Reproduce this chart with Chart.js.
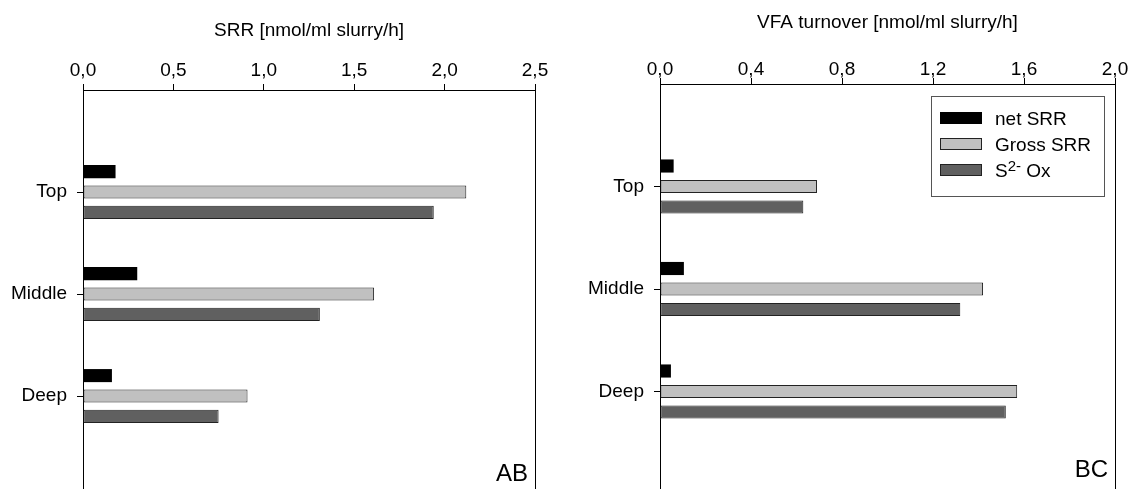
<!DOCTYPE html>
<html>
<head>
<meta charset="utf-8">
<script src="https://cdn.jsdelivr.net/npm/chart.js@4.4.1/dist/chart.umd.min.js"></script>
<style>
  html, body { margin: 0; padding: 0; background: #fff; overflow: hidden; width: 1131px; height: 489px; }
  #wrap { position: relative; width: 1131px; height: 489px; overflow: hidden; }
  .panel { position: absolute; top: 0; }
</style>
</head>
<body>
<div id="wrap">
  <div class="panel" style="left:0"><canvas id="srr" width="565" height="520"></canvas></div>
  <div class="panel" style="left:565px"><canvas id="vfa" width="566" height="520"></canvas></div>
</div>
<script>
// Sediment depth layers
const depths = ['Top', 'Middle', 'Deep'];
// Series names (^{...} marks superscript text)
const seriesNames = ['net SRR', 'Gross SRR', 'S^{2-} Ox'];
const seriesColors = ['#000000', '#c0c0c0', '#606060'];

// Sulfate reduction rates [nmol/ml slurry/h]
const srrNet   = [0.18, 0.30, 0.16];
const srrGross = [2.12, 1.61, 0.91];
const srrOx    = [1.94, 1.31, 0.75];
const srrTicks = [0.0, 0.5, 1.0, 1.5, 2.0, 2.5];

// VFA turnover [nmol/ml slurry/h]
const vfaNet   = [0.06, 0.105, 0.048];
const vfaGross = [0.69, 1.42, 1.57];
const vfaOx    = [0.63, 1.32, 1.52];
const vfaTicks = [0.0, 0.4, 0.8, 1.2, 1.6, 2.0];

const FONT = '"Liberation Sans", Arial, Helvetica, sans-serif';
Chart.defaults.font.family = FONT;
Chart.defaults.color = '#000';
Chart.defaults.animation = false;

// Empty slots above and below the depth layers give the open space at both ends
const padLabels = ['', ...depths, ''];
const padData = arr => [null, ...arr, null];

// Draws text where ^{...} is set as superscript
function drawRich(ctx, text, x, y, size) {
  const parts = [];
  const re = /\^\{([^}]*)\}/g;
  let last = 0, m;
  while ((m = re.exec(text)) !== null) {
    if (m.index > last) parts.push({ t: text.slice(last, m.index), sup: false });
    parts.push({ t: m[1], sup: true });
    last = re.lastIndex;
  }
  if (last < text.length) parts.push({ t: text.slice(last), sup: false });
  ctx.textAlign = 'left';
  ctx.textBaseline = 'alphabetic';
  let cx = x;
  const base = y + size * 0.36;
  parts.forEach(p => {
    const fs = p.sup ? Math.round(size * 0.8) : size;
    ctx.font = fs + 'px ' + FONT;
    ctx.fillText(p.t, cx, p.sup ? base - 6 : base);
    cx += ctx.measureText(p.t).width;
  });
}

// Right-hand frame line of the plot area
const frameRight = {
  id: 'frameRight',
  afterDraw(chart) {
    const { ctx, chartArea } = chart;
    const x = Math.round(chartArea.right) + 0.5;
    ctx.save();
    ctx.strokeStyle = '#000';
    ctx.lineWidth = 1;
    ctx.beginPath();
    ctx.moveTo(x, chartArea.top);
    ctx.lineTo(x, chartArea.bottom);
    ctx.stroke();
    ctx.restore();
  }
};

// Panel tag in the lower right corner
const panelTag = {
  id: 'panelTag',
  afterDraw(chart, args, opts) {
    if (!opts.text) return;
    const { ctx, chartArea } = chart;
    ctx.save();
    ctx.fillStyle = '#000';
    ctx.font = '24px ' + FONT;
    ctx.textAlign = 'right';
    ctx.textBaseline = 'alphabetic';
    ctx.fillText(opts.text, chartArea.right - 7, chartArea.bottom - 17);
    ctx.restore();
  }
};

// Boxed legend inside the upper right of the plot area
const boxLegend = {
  id: 'boxLegend',
  afterDraw(chart, args, opts) {
    if (!opts.show) return;
    const { ctx, chartArea } = chart;
    const w = 173, h = 100;
    const x0 = Math.round(chartArea.right - 11 - w), y0 = Math.round(chartArea.top + 12);
    ctx.save();
    ctx.fillStyle = '#fff';
    ctx.fillRect(x0, y0, w, h);
    ctx.strokeStyle = '#555';
    ctx.lineWidth = 1;
    ctx.strokeRect(x0 + 0.5, y0 + 0.5, w, h);
    chart.data.datasets.forEach((ds, i) => {
      const cy = y0 + 22 + i * 26;
      ctx.fillStyle = ds.backgroundColor;
      ctx.fillRect(x0 + 9, cy - 6, 42, 12);
      if (ds.borderWidth) {
        ctx.strokeStyle = ds.borderColor;
        ctx.strokeRect(x0 + 9.5, cy - 5.5, 41, 11);
      }
      ctx.fillStyle = '#000';
      drawRich(ctx, ds.label, x0 + 64, cy, 19);
    });
    ctx.restore();
  }
};

function makeDatasets(net, gross, ox) {
  return [net, gross, ox].map((vals, i) => ({
    label: seriesNames[i],
    data: padData(vals),
    backgroundColor: seriesColors[i],
    borderColor: i === 0 ? '#000' : '#222',
    borderWidth: i === 0 ? 0 : 1,
    borderSkipped: false,
    categoryPercentage: 0.6,
    barPercentage: 0.64
  }));
}

function makeChart(id, cfg) {
  return new Chart(document.getElementById(id), {
    type: 'bar',
    data: { labels: padLabels, datasets: makeDatasets(...cfg.series) },
    options: {
      indexAxis: 'y',
      responsive: false,
      layout: { padding: cfg.padding },
      plugins: {
        legend: { display: false },
        tooltip: { enabled: false },
        panelTag: { text: cfg.tag },
        boxLegend: { show: cfg.legend }
      },
      scales: {
        x: {
          type: 'linear',
          position: 'top',
          min: cfg.ticks[0],
          max: cfg.ticks[cfg.ticks.length - 1],
          afterBuildTicks: s => { s.ticks = cfg.ticks.map(v => ({ value: v })); },
          afterFit: s => { s.height = cfg.axisTop; },
          ticks: {
            callback: v => v.toFixed(1).replace('.', ','),
            font: { size: 19 },
            color: '#000',
            padding: cfg.tickPad,
            maxRotation: 0
          },
          grid: { drawOnChartArea: false, tickLength: 6, tickColor: '#000' },
          border: { color: '#000', width: 1 },
          title: {
            display: true,
            text: cfg.title,
            font: { size: 19 },
            color: '#000',
            padding: { top: cfg.titlePad, bottom: 0 }
          }
        },
        y: {
          type: 'category',
          offset: false,
          afterFit: s => { s.width = cfg.axisLeft; },
          ticks: { font: { size: 19 }, color: '#000', padding: 10, autoSkip: false },
          grid: {
            offset: false,
            drawOnChartArea: false,
            tickLength: 6,
            tickColor: c => (c.tick && c.tick.label) ? '#000' : 'rgba(0,0,0,0)'
          },
          border: { color: '#000', width: 1 }
        }
      }
    },
    plugins: [frameRight, panelTag, boxLegend]
  });
}

makeChart('srr', {
  series: [srrNet, srrGross, srrOx],
  ticks: srrTicks,
  title: 'SRR [nmol/ml slurry/h]',
  tag: 'AB',
  legend: false,
  axisTop: 90,
  axisLeft: 83,
  tickPad: 2,
  titlePad: 19,
  padding: { left: 0, right: 30, top: 0, bottom: 22 }
});

makeChart('vfa', {
  series: [vfaNet, vfaGross, vfaOx],
  ticks: vfaTicks,
  title: 'VFA turnover [nmol/ml slurry/h]',
  tag: 'BC',
  legend: true,
  axisTop: 84,
  axisLeft: 95,
  tickPad: -3,
  titlePad: 11,
  padding: { left: 0, right: 16, top: 0, bottom: 26 }
});
</script>
</body>
</html>
